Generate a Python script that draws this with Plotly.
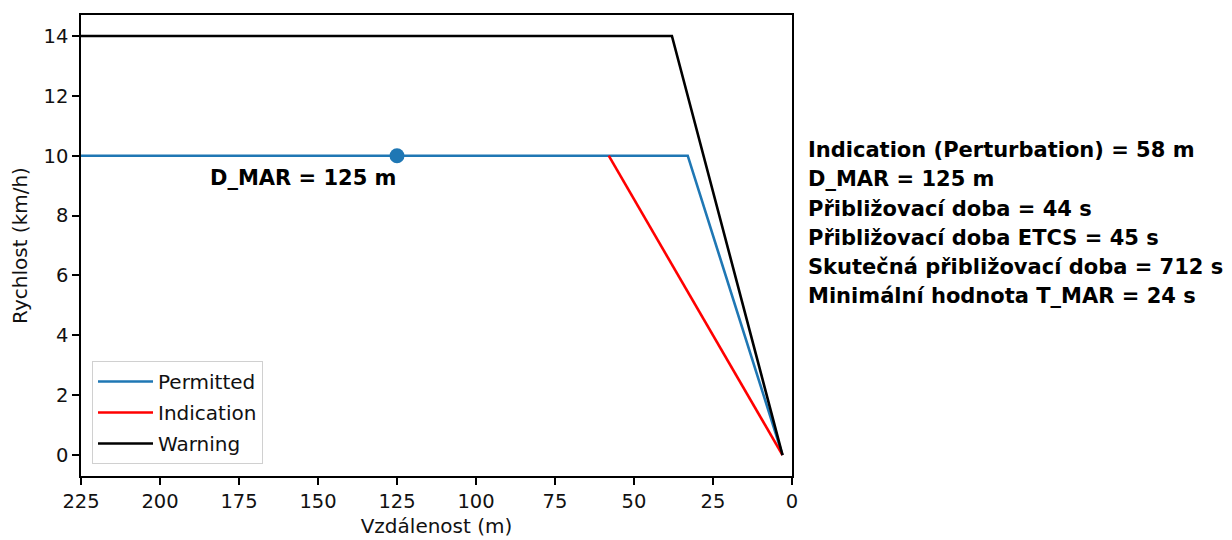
import plotly.graph_objects as go

# Data
permitted_x = [225, 33, 3]
permitted_y = [10, 10, 0]
indication_x = [58, 3]
indication_y = [10, 0]
warning_x = [225, 38, 3]
warning_y = [14, 14, 0]
dmar_x = [125]
dmar_y = [10]
x_ticks = [225, 200, 175, 150, 125, 100, 75, 50, 25, 0]
y_ticks = [0, 2, 4, 6, 8, 10, 12, 14]
info_lines = [
    "Indication (Perturbation) = 58 m",
    "D_MAR = 125 m",
    "Přibližovací doba = 44 s",
    "Přibližovací doba ETCS = 45 s",
    "Skutečná přibližovací doba = 712 s",
    "Minimální hodnota T_MAR = 24 s",
]

FONT = "DejaVu Sans"
W, H = 1224, 532          # page body has an 8px margin
L, R, T, B = 73, 784, 5, 468

fig = go.Figure()
fig.add_trace(go.Scatter(x=permitted_x, y=permitted_y, mode="lines", name="Permitted",
                         legendgroup="p", line=dict(color="#1f77b4", width=2.6)))
fig.add_trace(go.Scatter(x=indication_x, y=indication_y, mode="lines", name="Indication",
                         legendgroup="i", line=dict(color="red", width=2.6)))
fig.add_trace(go.Scatter(x=warning_x, y=warning_y, mode="lines", name="Warning",
                         legendgroup="w", line=dict(color="black", width=2.6)))
fig.add_trace(go.Scatter(x=dmar_x, y=dmar_y, mode="markers", showlegend=False,
                         marker=dict(color="#1f77b4", size=15)))

annotations = [dict(x=dmar_x[0], y=dmar_y[0], xref="x", yref="y", text="<b>D_MAR = 125 m</b>",
                    showarrow=False, xanchor="right", yanchor="middle", yshift=-22, xshift=2,
                    font=dict(family=FONT, size=21, color="black"))]
y0 = 141
for i, line in enumerate(info_lines):
    ypix = y0 + i * 29.2
    annotations.append(dict(x=(798 - L) / (R - L), y=(B - ypix) / (B - T), xref="paper", yref="paper",
                            text="<b>" + line + "</b>", showarrow=False, xanchor="left", yanchor="middle",
                            font=dict(family=FONT, size=21, color="black")))

axis_common = dict(showline=True, linecolor="black", linewidth=1.5, mirror=True, ticks="outside",
                   ticklen=7, tickwidth=1.5, tickcolor="black", showgrid=False, zeroline=False,
                   tickfont=dict(family=FONT, size=19.5, color="#111"))

fig.update_layout(
    width=W, height=H,
    margin=dict(l=L, r=W - R, t=T, b=H - B),
    plot_bgcolor="white", paper_bgcolor="white",
    font=dict(family=FONT, size=19.5, color="#111"),
    xaxis=dict(range=[225, 0], tickvals=x_ticks,
               title=dict(text="Vzdálenost (m)", font=dict(family=FONT, size=20), standoff=7),
               **axis_common),
    yaxis=dict(range=[-0.7, 14.7], tickvals=y_ticks,
               title=dict(text="Rychlost (km/h)", font=dict(family=FONT, size=20), standoff=14),
               **axis_common),
    legend=dict(x=(84 - L) / (R - L), y=(B - 456) / (B - T), xanchor="left", yanchor="bottom",
                bgcolor="rgba(255,255,255,0.8)", bordercolor="#d0d0d0", borderwidth=1,
                font=dict(family=FONT, size=20, color="#111"), tracegroupgap=2, itemwidth=55),
    annotations=annotations,
)

fig.write_html("out.html")
